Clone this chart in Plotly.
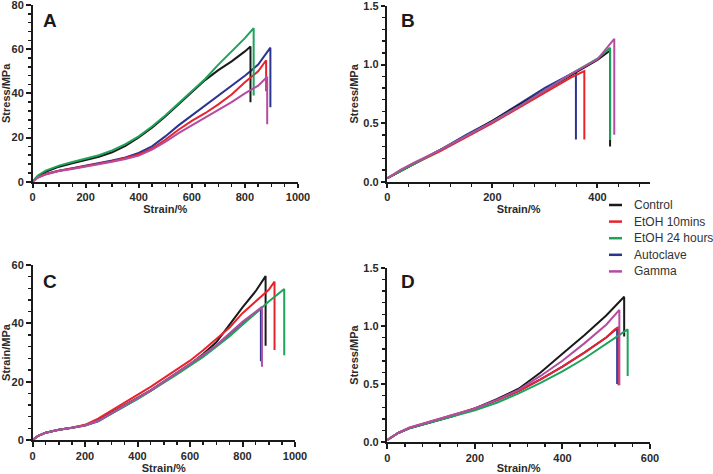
import plotly.graph_objects as go

# ---------------- data ----------------
series_names = ["Control", "EtOH 10mins", "EtOH 24 hours", "Autoclave", "Gamma"]
series_colors = ["#1a1a1a", "#e8232c", "#1ea35a", "#2b3591", "#b44ca2"]

# Panel A (Stress/MPa vs Strain/%)
a_control_x = [0, 20, 50, 100, 150, 200, 250, 300, 350, 400, 450, 500, 550, 600, 650, 700, 750, 800, 821, 821]
a_control_y = [0, 2.5, 4.5, 6.8, 8.3, 9.8, 11.3, 13.3, 16.2, 20, 24.5, 29.5, 35, 40.5, 46, 50.5, 54.5, 59, 61.2, 36]
a_etoh10_x = [0, 20, 50, 100, 150, 200, 250, 300, 350, 400, 450, 500, 550, 600, 650, 700, 750, 800, 850, 880, 880]
a_etoh10_y = [0, 2, 3.5, 5, 6, 7, 8, 9.3, 10.8, 12.3, 15, 19, 23.5, 27.5, 31, 35, 39.5, 45, 50, 55, 41]
a_etoh24_x = [0, 20, 50, 100, 150, 200, 250, 300, 350, 400, 450, 500, 550, 600, 650, 700, 750, 800, 833, 833]
a_etoh24_y = [0, 2.8, 5, 7.3, 8.9, 10.4, 12, 14.2, 17, 20.5, 25, 30, 35.5, 41, 46.5, 53, 59, 65, 69.5, 39]
a_autoclave_x = [0, 20, 50, 100, 150, 200, 250, 300, 350, 400, 450, 500, 550, 600, 650, 700, 750, 800, 850, 896, 896]
a_autoclave_y = [0, 2, 3.5, 5, 6.1, 7.2, 8.3, 9.6, 11, 13, 16, 20.5, 25.5, 30, 34.5, 39, 43.5, 48, 53, 60.7, 33.7]
a_gamma_x = [0, 20, 50, 100, 150, 200, 250, 300, 350, 400, 450, 500, 550, 600, 650, 700, 750, 800, 850, 884, 884]
a_gamma_y = [0, 1.8, 3.3, 4.8, 5.8, 6.8, 7.8, 9, 10.3, 11.8, 14.5, 18, 22, 25.5, 29, 32.5, 36, 40, 43.5, 47.5, 26]

# Panel B (Stress/MPa vs Strain/%)
b_control_x = [0, 25, 50, 100, 150, 200, 250, 300, 350, 400, 424, 424]
b_control_y = [0.03, 0.09, 0.15, 0.27, 0.39, 0.52, 0.65, 0.78, 0.91, 1.04, 1.12, 0.30]
b_etoh10_x = [0, 25, 50, 100, 150, 200, 250, 300, 350, 375, 375]
b_etoh10_y = [0.03, 0.09, 0.15, 0.26, 0.38, 0.50, 0.63, 0.76, 0.89, 0.945, 0.36]
b_etoh24_x = [0, 25, 50, 100, 150, 200, 250, 300, 350, 400, 424, 424]
b_etoh24_y = [0.03, 0.09, 0.15, 0.27, 0.39, 0.51, 0.64, 0.78, 0.92, 1.05, 1.144, 0.355]
b_autoclave_x = [0, 25, 50, 100, 150, 200, 250, 300, 350, 359, 359]
b_autoclave_y = [0.03, 0.09, 0.15, 0.27, 0.40, 0.52, 0.66, 0.80, 0.92, 0.94, 0.36]
b_gamma_x = [0, 25, 50, 100, 150, 200, 250, 300, 350, 400, 432, 432]
b_gamma_y = [0.03, 0.10, 0.16, 0.27, 0.39, 0.51, 0.64, 0.78, 0.92, 1.045, 1.22, 0.40]

# Panel C (Strain/MPa vs Strain/%)
c_control_x = [0, 20, 50, 100, 150, 200, 250, 300, 350, 400, 450, 500, 550, 600, 650, 700, 750, 800, 850, 888, 888]
c_control_y = [0, 1.3, 2.5, 3.5, 4.2, 5.1, 6.8, 9.3, 11.8, 14.3, 17, 20, 23, 26, 29.5, 33.5, 39.5, 45.5, 51, 56.2, 32.3]
c_etoh10_x = [0, 20, 50, 100, 150, 200, 250, 300, 350, 400, 450, 500, 550, 600, 650, 700, 750, 800, 850, 900, 922, 922]
c_etoh10_y = [0, 1.3, 2.5, 3.5, 4.2, 5.2, 7.3, 10, 12.5, 15.2, 18.2, 21.2, 24.2, 27.2, 30.8, 34.5, 38.5, 43.5, 47.5, 51.5, 54.3, 30.9]
c_etoh24_x = [0, 20, 50, 100, 150, 200, 250, 300, 350, 400, 450, 500, 550, 600, 650, 700, 750, 800, 850, 900, 959, 959]
c_etoh24_y = [0, 1.3, 2.5, 3.5, 4.2, 5.0, 6.5, 9, 11.5, 14, 16.8, 19.5, 22.5, 25.5, 28.5, 32, 35.5, 39.5, 43.5, 47.5, 51.8, 29.1]
c_autoclave_x = [0, 20, 50, 100, 150, 200, 250, 300, 350, 400, 450, 500, 550, 600, 650, 700, 750, 800, 850, 870, 870]
c_autoclave_y = [0, 1.3, 2.5, 3.5, 4.2, 5.0, 6.4, 9, 11.6, 14.1, 16.8, 19.8, 22.8, 25.8, 29, 32.3, 36.2, 40.2, 43.6, 45, 27]
c_gamma_x = [0, 20, 50, 100, 150, 200, 250, 300, 350, 400, 450, 500, 550, 600, 650, 700, 750, 800, 850, 874, 874]
c_gamma_y = [0, 1.3, 2.5, 3.5, 4.2, 5.0, 6.6, 9.2, 11.8, 14.3, 17, 20, 23, 26, 29.2, 32.5, 36.5, 40.5, 44, 45.7, 25.1]

# Panel D (Stress/MPa vs Strain/%)
d_control_x = [0, 25, 50, 100, 150, 200, 250, 300, 350, 400, 450, 500, 541, 541]
d_control_y = [0.02, 0.08, 0.12, 0.175, 0.225, 0.29, 0.37, 0.46, 0.60, 0.76, 0.92, 1.09, 1.25, 0.91]
d_etoh10_x = [0, 25, 50, 100, 150, 200, 250, 300, 350, 400, 450, 500, 520, 528, 528]
d_etoh10_y = [0.02, 0.08, 0.125, 0.18, 0.23, 0.29, 0.36, 0.44, 0.54, 0.65, 0.77, 0.90, 0.97, 0.99, 0.49]
d_etoh24_x = [0, 25, 50, 100, 150, 200, 250, 300, 350, 400, 450, 500, 540, 549, 549]
d_etoh24_y = [0.02, 0.08, 0.12, 0.17, 0.22, 0.275, 0.34, 0.42, 0.51, 0.61, 0.72, 0.85, 0.95, 0.97, 0.57]
d_autoclave_x = [0, 25, 50, 100, 150, 200, 250, 300, 350, 400, 450, 500, 525, 525]
d_autoclave_y = [0.02, 0.08, 0.12, 0.175, 0.225, 0.29, 0.36, 0.44, 0.54, 0.65, 0.77, 0.90, 0.98, 0.50]
d_gamma_x = [0, 25, 50, 100, 150, 200, 250, 300, 350, 400, 450, 500, 530, 530]
d_gamma_y = [0.02, 0.08, 0.125, 0.18, 0.23, 0.29, 0.365, 0.45, 0.57, 0.70, 0.85, 1.01, 1.137, 0.49]

panel_letters = ["A", "B", "C", "D"]
x_titles = ["Strain/%", "Strain/%", "Strain/%", "Strain/%"]
y_titles = ["Stress/MPa", "Stress/MPa", "Strain/MPa", "Stress/MPa"]
x_ranges = [[0, 1000], [0, 500], [0, 1000], [0, 600]]
y_ranges = [[0, 80], [0, 1.5], [0, 60], [0, 1.5]]
x_major = [200, 200, 200, 200]
y_major = [20, 0.5, 20, 0.5]
y_formats = ["d", ".1f", "d", ".1f"]
x_minor = [50, 40, 50, 40]
y_minor = [4, 0.1, 4, 0.1]

panels = [
    [(a_control_x, a_control_y), (a_etoh10_x, a_etoh10_y), (a_etoh24_x, a_etoh24_y), (a_autoclave_x, a_autoclave_y), (a_gamma_x, a_gamma_y)],
    [(b_control_x, b_control_y), (b_etoh10_x, b_etoh10_y), (b_etoh24_x, b_etoh24_y), (b_autoclave_x, b_autoclave_y), (b_gamma_x, b_gamma_y)],
    [(c_control_x, c_control_y), (c_etoh10_x, c_etoh10_y), (c_etoh24_x, c_etoh24_y), (c_autoclave_x, c_autoclave_y), (c_gamma_x, c_gamma_y)],
    [(d_control_x, d_control_y), (d_etoh10_x, d_etoh10_y), (d_etoh24_x, d_etoh24_y), (d_autoclave_x, d_autoclave_y), (d_gamma_x, d_gamma_y)],
]

# ---------------- layout geometry ----------------
W, H = 713, 474
# pixel boxes: (left, right, top, bottom)
boxes = [(32.5, 298, 5, 181.7), (387.3, 650, 6, 181.7), (32.5, 295, 265, 440), (387.3, 650, 267.7, 442.3)]
letter_pos = [(50, 20), (408, 20), (50, 281), (408, 281)]

FONT = "Liberation Sans, Arial, Helvetica, sans-serif"
AXC = "#1a1a1a"
TXC = "#2a2a2a"


def minor_positions(rng, step, major):
    out = []
    k = 0
    while True:
        v = round(rng[0] + k * step, 6)
        if v > rng[1] + 1e-9:
            break
        if abs(v / major - round(v / major)) > 1e-6:
            out.append(v)
        k += 1
    return out


fig = go.Figure()
draw_order = [3, 0, 1, 2, 4]
for p in range(4):
    sx = "" if p == 0 else str(p + 1)
    xa, ya = "x" + sx, "y" + sx
    mx, my = f"x{p+5}", f"y{p+5}"
    for s in draw_order:
        xs, ys = panels[p][s]
        fig.add_trace(go.Scatter(x=xs, y=ys, mode="lines", name=series_names[s],
                                 line=dict(color=series_colors[s], width=2),
                                 xaxis=xa, yaxis=ya, showlegend=False, hoverinfo="skip"))
    # empty traces on the minor-tick overlay axes (secondary x / secondary y) so they are drawn
    fig.add_trace(go.Scatter(x=[None], y=[None], mode="lines", showlegend=False, hoverinfo="skip",
                             xaxis=mx, yaxis=ya))
    fig.add_trace(go.Scatter(x=[None], y=[None], mode="lines", showlegend=False, hoverinfo="skip",
                             xaxis=xa, yaxis=my))

layout = dict(width=W, height=H, margin=dict(l=0, r=0, t=0, b=0, autoexpand=False),
              paper_bgcolor="white", plot_bgcolor="rgba(0,0,0,0)",
              font=dict(family=FONT, color=TXC), showlegend=False)

tickfont = dict(size=11, family=FONT, color=TXC, weight="bold")
titlefont = dict(size=11, family=FONT, color=TXC, weight="bold")
for p in range(4):
    l, r, t, b = boxes[p]
    sx = "" if p == 0 else str(p + 1)
    layout["xaxis" + sx] = dict(
        domain=[l / W, r / W], range=x_ranges[p], anchor="y" + sx, automargin=False,
        showline=True, linecolor=AXC, linewidth=2, showgrid=False, zeroline=False,
        ticks="outside", ticklen=4.5, tickwidth=2, tickcolor=AXC, ticklabeloverflow="allow",
        tickmode="linear", tick0=0, dtick=x_major[p], tickformat="d", tickfont=tickfont,
        title=dict(text=x_titles[p], font=titlefont, standoff=3),
        fixedrange=True,
    )
    layout["yaxis" + sx] = dict(
        domain=[1 - b / H, 1 - t / H], range=y_ranges[p], anchor="x" + sx, automargin=False,
        showline=True, linecolor=AXC, linewidth=2, showgrid=False, zeroline=False,
        ticks="outside", ticklen=4.5, tickwidth=2, tickcolor=AXC, ticklabeloverflow="allow",
        tickmode="linear", tick0=0, dtick=y_major[p], tickformat=y_formats[p], tickfont=tickfont,
        title=dict(text=y_titles[p], font=titlefont, standoff=2),
        fixedrange=True,
    )
    # overlay axes that carry only the minor ticks
    m = str(p + 5)
    layout["xaxis" + m] = dict(
        overlaying="x" + sx, anchor="y" + sx, side="bottom", range=x_ranges[p], automargin=False,
        showline=False, showgrid=False, zeroline=False, showticklabels=False,
        ticks="outside", ticklen=4, tickwidth=1.5, tickcolor=AXC,
        tickmode="array", tickvals=minor_positions(x_ranges[p], x_minor[p], x_major[p]),
        fixedrange=True,
    )
    layout["yaxis" + m] = dict(
        overlaying="y" + sx, anchor="x" + sx, side="left", range=y_ranges[p], automargin=False,
        showline=False, showgrid=False, zeroline=False, showticklabels=False,
        ticks="outside", ticklen=4, tickwidth=1.5, tickcolor=AXC,
        tickmode="array", tickvals=minor_positions(y_ranges[p], y_minor[p], y_major[p]),
        fixedrange=True,
    )

annotations = []
for p in range(4):
    lx, ly = letter_pos[p]
    annotations.append(dict(text=panel_letters[p], x=lx / W, y=1 - ly / H, xref="paper", yref="paper",
                            showarrow=False, xanchor="center", yanchor="middle",
                            font=dict(size=19, family=FONT, color="#1a1a1a", weight="bold")))

# custom legend
shapes = []
leg_y0 = 205
leg_dy = 16.6
for i, name in enumerate(series_names):
    yy = 1 - (leg_y0 + i * leg_dy) / H
    shapes.append(dict(type="line", xref="paper", yref="paper", x0=609 / W, x1=622 / W, y0=yy, y1=yy,
                       line=dict(color=series_colors[i], width=2.5)))
    annotations.append(dict(text=name, x=632 / W, y=yy, xref="paper", yref="paper", showarrow=False,
                            xanchor="left", yanchor="middle",
                            font=dict(size=12, family=FONT, color="#333333")))

layout["annotations"] = annotations
layout["shapes"] = shapes
fig.update_layout(**layout)

fig.write_html("out.html", config={"displayModeBar": False, "staticPlot": True},
               post_script="document.body.style.margin='0';document.body.style.padding='0';"
                           "document.documentElement.style.overflow='hidden';")
